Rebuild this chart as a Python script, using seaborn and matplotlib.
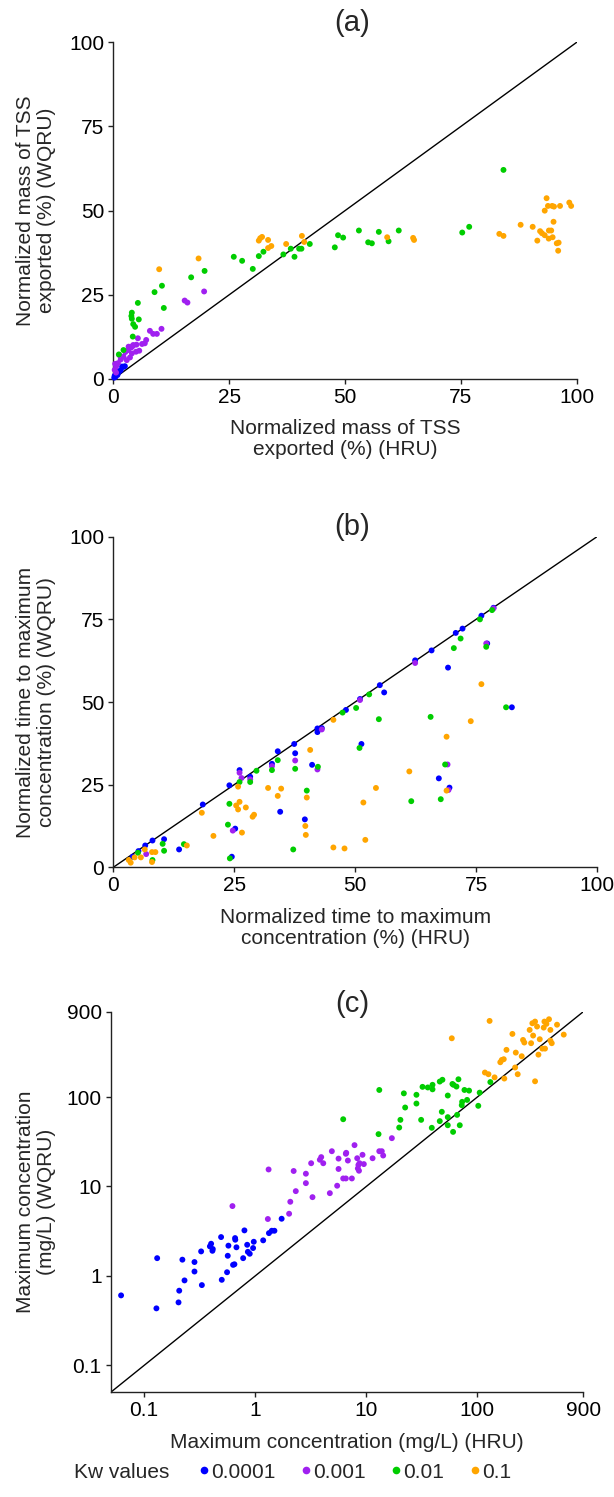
import numpy as np
import pandas as pd
import matplotlib
matplotlib.use("Agg")
import matplotlib.pyplot as plt
from matplotlib.lines import Line2D
import seaborn as sns

# ---------------- data ----------------
kw_labels = ["0.0001", "0.001", "0.01", "0.1"]
kw_colors = ["#0000FF", "#A020F0", "#00CD00", "#FFA500"]

# (a) Normalized mass of TSS exported (%)
a_blue_x = [0.2, 0.3, 0.5, 0.7, 0.9, 1.1, 1.3, 1.6, 1.9, 2.2, 2.5, 0.4, 0.8]
a_blue_y = [0.4, 1.0, 0.8, 1.6, 1.2, 2.0, 2.3, 2.6, 3.7, 3.6, 3.8, 0.6, 1.4]
a_purple_x = [19.6, 15.4, 16.0, 10.4, 9.4, 8.6, 7.9, 7.1, 6.8, 5.3, 6.2, 5.0, 4.9, 5.6, 4.3, 4.2,
              3.9, 3.3, 3.2, 3.6, 4.0, 2.9, 2.2, 1.6, 1.0, 0.6, 0.3, 0.6, 0.4, 1.3, 2.6]
a_purple_y = [26.0, 23.3, 22.7, 14.9, 13.4, 13.4, 14.3, 11.6, 10.6, 12.1, 10.4, 10.2, 8.1, 8.4, 10.1, 9.8,
              9.4, 9.6, 8.6, 6.4, 7.6, 5.6, 6.6, 5.8, 4.7, 3.7, 2.7, 1.9, 4.5, 7.1, 8.0]
a_green_x = [84.2, 76.8, 75.3, 61.6, 59.4, 57.3, 55.8, 55.0, 53.0, 49.6, 48.5, 47.8, 42.4, 40.6, 40.1,
             39.1, 38.3, 36.7, 32.4, 31.4, 30.1, 27.8, 26.0, 19.7, 16.8, 10.5, 10.9, 8.9, 5.3, 5.5,
             4.0, 3.9, 4.0, 4.3, 4.7, 4.2, 2.2, 1.2]
a_green_y = [62.1, 45.2, 43.5, 44.1, 40.9, 43.7, 40.3, 40.6, 44.1, 42.0, 42.7, 39.1, 40.1, 38.7, 38.7,
             36.3, 38.7, 37.0, 37.8, 36.5, 32.7, 35.1, 36.3, 32.1, 30.2, 27.7, 21.1, 25.8, 22.6, 17.7,
             19.7, 18.7, 17.9, 16.3, 15.5, 12.6, 8.6, 7.3]
a_orange_x = [9.9, 18.4, 31.4, 31.7, 32.1, 33.4, 33.4, 34.1, 37.3, 40.7, 41.2, 59.1, 64.7, 64.9, 83.3,
              84.2, 87.9, 90.5, 91.5, 92.1, 92.5, 93.1, 93.1, 93.5, 93.8, 94.0, 94.5, 94.7, 94.8, 95.0,
              95.1, 95.7, 96.1, 96.0, 96.4, 98.4, 98.8, 93.96]
a_orange_y = [32.6, 35.8, 41.1, 41.8, 42.2, 41.3, 38.9, 39.5, 40.1, 42.5, 40.7, 42.1, 41.9, 41.3, 43.1,
              42.5, 45.8, 45.2, 41.1, 43.9, 43.3, 42.7, 50.0, 53.7, 51.4, 44.1, 44.1, 51.4, 42.1, 46.7,
              51.2, 40.3, 40.5, 38.1, 51.4, 52.4, 51.4, 41.7]

# (b) Normalized time to maximum concentration (%)
b_blue_x = [4.0, 5.2, 6.6, 8.1, 10.5, 13.6, 18.5, 24.0, 24.5, 25.2, 26.1, 28.3, 32.8, 34.0, 34.5,
            37.6, 37.4, 39.6, 41.1, 42.2, 42.2, 43.1, 48.1, 51.0, 51.3, 55.1, 56.0, 62.4, 65.8,
            67.3, 69.2, 69.5, 70.8, 72.2, 76.1, 77.3, 78.6, 82.4]
b_blue_y = [3.2, 4.9, 6.6, 8.1, 8.5, 5.4, 19.0, 24.8, 3.2, 11.7, 29.4, 27.4, 31.3, 35.1, 16.8,
            34.5, 37.3, 14.5, 31.0, 42.0, 40.9, 42.1, 47.6, 50.9, 37.3, 55.1, 52.9, 62.6, 65.6,
            26.9, 60.4, 24.1, 70.9, 72.2, 76.1, 67.7, 78.5, 48.4]
b_purple_x = [6.8, 24.7, 26.1, 26.5, 28.3, 32.8, 37.6, 42.2, 43.1, 51.0, 62.4, 77.1, 69.1, 69.3, 78.6]
b_purple_y = [4.0, 11.1, 28.6, 27.0, 26.6, 30.6, 32.3, 29.6, 41.7, 50.6, 61.8, 67.7, 31.1, 23.4, 78.3]
b_green_x = [5.1, 8.1, 10.2, 10.5, 14.6, 23.7, 24.0, 24.1, 26.1, 28.3, 29.6, 32.8, 34.0, 37.2, 37.6,
             40.0, 42.3, 47.4, 50.2, 50.9, 52.9, 54.9, 61.6, 65.6, 67.7, 68.6, 70.4, 71.8, 75.8,
             77.1, 78.3, 81.2]
b_green_y = [4.4, 2.2, 7.1, 5.0, 7.0, 12.9, 19.2, 2.7, 25.8, 25.8, 29.2, 29.4, 32.4, 5.4, 29.8,
             23.2, 30.4, 46.8, 48.2, 36.1, 52.3, 44.8, 20.0, 45.5, 20.6, 31.1, 66.3, 69.2, 75.0,
             66.7, 77.8, 48.4]
b_orange_x = [3.2, 3.6, 4.4, 5.7, 6.5, 8.0, 8.7, 8.0, 15.2, 18.3, 20.7, 25.4, 25.8, 25.8, 26.1,
              26.6, 27.4, 28.8, 29.1, 32.0, 34.0, 34.7, 39.7, 39.8, 40.0, 40.7, 45.5, 45.5, 47.8,
              51.7, 52.1, 54.3, 61.2, 68.9, 68.9, 73.9, 76.1]
b_orange_y = [2.2, 1.4, 3.0, 3.0, 5.4, 4.6, 4.6, 1.6, 6.6, 16.5, 9.5, 18.7, 17.5, 24.4, 19.8,
              10.5, 18.1, 15.3, 15.9, 24.0, 21.6, 23.8, 12.5, 9.8, 21.1, 35.5, 44.6, 6.0, 5.7,
              19.6, 8.3, 24.0, 29.0, 39.5, 23.2, 44.2, 55.4]

# (c) Maximum concentration (mg/L)
c_blue_x = [0.062, 0.129, 0.131, 0.204, 0.207, 0.221, 0.231, 0.284, 0.284, 0.326, 0.331, 0.391,
            0.401, 0.412, 0.415, 0.493, 0.500, 0.558, 0.566, 0.574, 0.632, 0.650, 0.659, 0.662,
            0.678, 0.779, 0.800, 0.847, 0.859, 0.893, 0.957, 0.971, 1.18, 1.33, 1.41, 1.49, 1.73]
c_blue_y = [0.606, 0.434, 1.58, 0.506, 0.684, 1.52, 0.891, 1.43, 1.12, 1.88, 0.79, 2.14,
            2.29, 1.91, 2.0, 2.72, 0.905, 1.10, 1.68, 2.18, 1.33, 1.35, 2.65, 2.54,
            2.09, 1.58, 3.23, 2.23, 1.86, 1.77, 2.05, 2.41, 2.50, 3.01, 3.20, 3.20, 4.36]
c_purple_x = [0.624, 1.30, 1.32, 2.02, 2.07, 2.22, 2.32, 2.86, 2.86, 3.19, 3.28, 3.82, 3.93, 4.10,
              4.70, 4.90, 5.47, 5.63, 5.63, 6.20, 6.55, 6.55, 6.60, 6.83, 7.42, 7.84, 8.29, 8.40,
              8.50, 8.60, 8.70, 9.25, 9.51, 11.4, 13.1, 13.8, 14.2, 17.0]
c_purple_y = [6.04, 4.33, 15.5, 4.96, 6.75, 14.9, 8.87, 10.9, 13.9, 18.2, 7.60, 19.9, 21.3, 18.2,
              8.42, 24.8, 10.2, 15.7, 20.5, 12.3, 12.3, 23.2, 23.8, 19.5, 12.3, 29.0, 20.7, 15.9,
              17.4, 15.0, 18.2, 22.6, 17.8, 20.7, 24.8, 24.8, 22.2, 34.7]
c_green_x = [6.20, 12.9, 13.1, 19.8, 20.3, 21.8, 22.4, 28.3, 28.3, 31.2, 32.1, 35.8, 38.9, 39.5,
             39.5, 45.9, 45.9, 47.9, 48.5, 54.2, 54.2, 54.2, 59.7, 60.5, 61.0, 64.9, 65.8, 67.6,
             69.5, 72.4, 73.0, 76.6, 80.9, 84.3, 102, 105, 131]
c_green_y = [56.5, 38.5, 120, 45.6, 55.6, 110, 76.4, 84.6, 106, 55.6, 130, 128, 45.3, 137,
             122, 53.8, 149, 68.4, 156, 104, 59.6, 48.4, 140, 40.8, 137, 131, 63.2, 158,
             48.4, 81.1, 88.4, 120, 92.9, 118, 79.8, 112, 147]
c_orange_x = [58.9, 117, 126, 129, 143, 161, 166, 173, 175, 183, 207, 219, 222, 231, 251, 258,
              265, 296, 305, 313, 318, 331, 331, 345, 355, 365, 385, 396, 402, 407, 419, 442,
              455, 455, 468, 522, 600]
c_orange_y = [454, 188, 180, 710, 166, 245, 260, 265, 161, 337, 508, 214, 314, 180, 286, 435,
              407, 563, 400, 668, 487, 150, 698, 614, 298, 443, 348, 598, 698, 348, 658, 741,
              563, 428, 400, 644, 499]


def frame(groups):
    rows = []
    for lab, (xs, ys) in zip(kw_labels, groups):
        rows.append(pd.DataFrame({"x": xs, "y": ys, "kw": lab}))
    return pd.concat(rows, ignore_index=True)


df_a = frame([(a_blue_x, a_blue_y), (a_purple_x, a_purple_y),
              (a_green_x, a_green_y), (a_orange_x, a_orange_y)])
df_b = frame([(b_blue_x, b_blue_y), (b_purple_x, b_purple_y),
              (b_green_x, b_green_y), (b_orange_x, b_orange_y)])
df_c = frame([(c_blue_x, c_blue_y), (c_purple_x, c_purple_y),
              (c_green_x, c_green_y), (c_orange_x, c_orange_y)])

# ---------------- style ----------------
sns.set_theme(style="ticks")
plt.rcParams["font.family"] = ["Liberation Sans", "DejaVu Sans"]
plt.rcParams["axes.linewidth"] = 1.0
plt.rcParams["axes.edgecolor"] = "#222222"
plt.rcParams["xtick.color"] = "#222222"
plt.rcParams["ytick.color"] = "#222222"
plt.rcParams["xtick.labelcolor"] = "black"
plt.rcParams["ytick.labelcolor"] = "black"

W, H = 614, 1497
fig = plt.figure(figsize=(W / 100, H / 100), dpi=100)


def ax_px(left, top, right, bottom):
    return fig.add_axes([left / W, 1 - bottom / H, (right - left) / W, (bottom - top) / H])


palette = dict(zip(kw_labels, kw_colors))
fs_tick = 15
fs_lab = 15

axa = ax_px(113.3, 42.3, 576.7, 379.0)
axb = ax_px(113.3, 536.7, 597.0, 867.3)
axc = ax_px(110.7, 1011.7, 583.3, 1392.3)

for ax, df in [(axa, df_a), (axb, df_b), (axc, df_c)]:
    sns.scatterplot(data=df, x="x", y="y", hue="kw", hue_order=kw_labels, palette=palette,
                    s=18, linewidth=0, legend=False, ax=ax, zorder=3, clip_on=False)
    sns.despine(ax=ax)
    ax.tick_params(axis="both", direction="out", length=3.5, width=1, labelsize=fs_tick, pad=3)

lin_ticks = [0, 25, 50, 75, 100]
lin_labels = ["0", "25", "50", "75", "100"]
for ax in (axa, axb):
    ax.set_xlim(0, 100)
    ax.set_ylim(0, 100)
    ax.set_xticks(lin_ticks)
    ax.set_xticklabels(lin_labels)
    ax.set_yticks(lin_ticks)
    ax.set_yticklabels(lin_labels)
    ax.plot([0, 100], [0, 100], color="black", lw=1, zorder=2)

log_ticks = [0.1, 1, 10, 100, 900]
log_labels = ["0.1", "1", "10", "100", "900"]
axc.set_xscale("log")
axc.set_yscale("log")
axc.set_xlim(0.05, 900)
axc.set_ylim(0.05, 900)
axc.set_xticks(log_ticks)
axc.set_xticklabels(log_labels)
axc.set_yticks(log_ticks)
axc.set_yticklabels(log_labels)
axc.minorticks_off()
axc.plot([0.05, 900], [0.05, 900], color="black", lw=1, zorder=2)

# axis labels: (axes, xlabel, ylabel, baseline of last xlabel line in px)
label_specs = [
    (axa, "Normalized mass of TSS\nexported (%) (HRU)",
     "Normalized mass of TSS\nexported (%) (WQRU)", 455),
    (axb, "Normalized time to maximum\nconcentration (%) (HRU)",
     "Normalized time to maximum\nconcentration (%) (WQRU)", 944),
    (axc, "Maximum concentration (mg/L) (HRU)",
     "Maximum concentration\n(mg/L) (WQRU)", 1448),
]
for ax, xl, yl, base_px in label_specs:
    pos = ax.get_position()
    left_px, right_px = pos.x0 * W, pos.x1 * W
    top_px, bot_px = (1 - pos.y1) * H, (1 - pos.y0) * H
    ax.set_xlabel(xl, fontsize=fs_lab, va="baseline", linespacing=1.15)
    ax.xaxis.set_label_coords(0.5, (bot_px - base_px) / (bot_px - top_px))
    ax.set_ylabel(yl, fontsize=fs_lab, va="center", linespacing=1.15)
    ax.yaxis.set_label_coords((36 - left_px) / (right_px - left_px), 0.5)

# panel titles
for lab, ypx in [("(a)", 23), ("(b)", 526.5), ("(c)", 1003.5)]:
    fig.text(352 / W, 1 - ypx / H, lab, ha="center", va="center", fontsize=21)

# legend
fig.text(74 / W, 1 - 1472 / H, "Kw values", ha="left", va="center", fontsize=15)
handles = [Line2D([], [], marker="o", ls="", color=c, markersize=5.5, markeredgewidth=0)
           for c in kw_colors]
fig.legend(handles, kw_labels, loc="center left", bbox_to_anchor=(197 / W, 1 - 1472 / H),
           ncol=4, frameon=False, fontsize=15, handletextpad=0.0, columnspacing=1.1,
           handlelength=0.7, borderaxespad=0, borderpad=0)

fig.savefig("out.png", dpi=100)
